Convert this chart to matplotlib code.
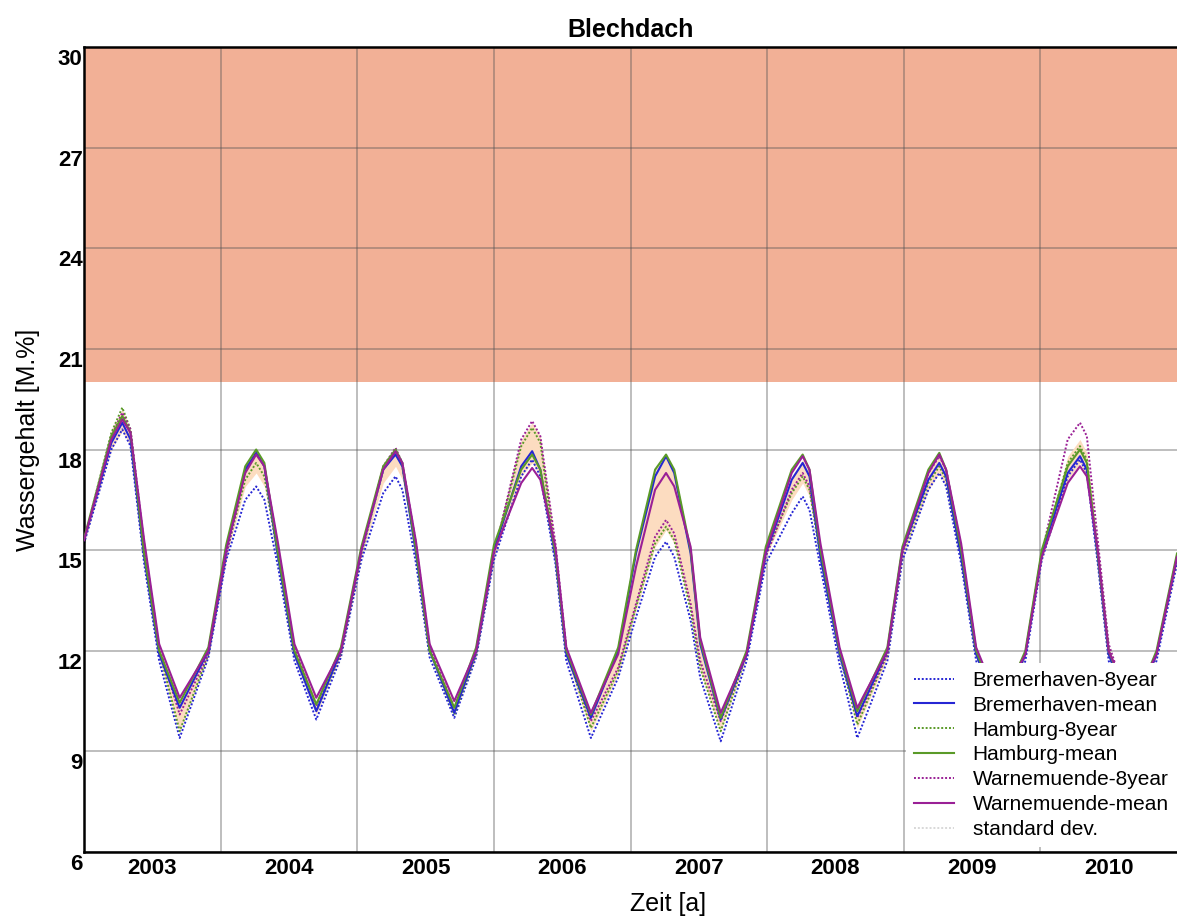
import numpy as np
import matplotlib.pyplot as plt
import matplotlib.transforms as mtransforms

plt.rcParams['font.family'] = ['Liberation Sans', 'DejaVu Sans']

# Stuetzstellen (Zeit in Jahren): Start, dann je Zyklus
# vor Max, Max, nach Max, 15 fallend, 12 fallend, Min, 12 steigend, 15 steigend
zeit = [2003.00,
        2003.20, 2003.28, 2003.34, 2003.44, 2003.55, 2003.70, 2003.91, 2004.04,
        2004.18, 2004.26, 2004.32, 2004.42, 2004.54, 2004.70, 2004.88, 2005.03,
        2005.19, 2005.28, 2005.33, 2005.43, 2005.53, 2005.71, 2005.87, 2006.00,
        2006.20, 2006.28, 2006.34, 2006.45, 2006.53, 2006.71, 2006.91, 2007.04,
        2007.18, 2007.26, 2007.32, 2007.44, 2007.51, 2007.66, 2007.85, 2007.99,
        2008.18, 2008.26, 2008.31, 2008.39, 2008.53, 2008.66, 2008.88, 2008.99,
        2009.18, 2009.26, 2009.31, 2009.42, 2009.53, 2009.70, 2009.89, 2010.01,
        2010.20, 2010.29, 2010.34, 2010.42, 2010.50, 2010.67, 2010.85, 2011.00]

bremerhaven_8year = [15.2,
    18.0, 18.6, 18.1, 14.6, 11.7, 9.4, 11.8, 14.7,
    16.5, 16.9, 16.5, 14.5, 11.7, 9.95, 11.8, 14.7,
    16.7, 17.2, 16.8, 14.6, 11.8, 10.0, 11.8, 14.7,
    17.2, 17.7, 17.2, 14.6, 11.7, 9.4, 11.2, 13.0,
    14.8, 15.25, 14.8, 12.9, 11.2, 9.3, 11.7, 14.6,
    16.1, 16.6, 16.2, 14.5, 11.6, 9.4, 11.7, 14.7,
    16.8, 17.3, 16.9, 14.6, 11.7, 9.6, 11.7, 14.7,
    17.2, 17.7, 17.3, 14.6, 11.7, 9.6, 11.7, 14.6]
bremerhaven_mean = [15.3,
    18.2, 18.8, 18.3, 14.8, 11.9, 10.3, 12.0, 15.0,
    17.4, 17.9, 17.5, 14.8, 11.9, 10.2, 12.0, 15.0,
    17.4, 17.85, 17.5, 14.9, 12.0, 10.15, 12.0, 15.0,
    17.5, 17.95, 17.4, 14.8, 11.9, 10.0, 12.0, 14.9,
    17.2, 17.8, 17.3, 14.9, 12.2, 9.95, 11.9, 14.9,
    17.1, 17.6, 17.2, 14.8, 11.9, 10.05, 12.0, 15.0,
    17.1, 17.6, 17.2, 14.8, 11.9, 10.0, 11.9, 14.9,
    17.3, 17.8, 17.4, 14.8, 11.9, 10.0, 11.9, 14.8]
hamburg_8year = [15.3,
    18.5, 19.25, 18.6, 15.0, 12.0, 9.6, 11.9, 14.9,
    17.1, 17.6, 17.2, 14.8, 11.9, 10.2, 11.9, 14.9,
    17.4, 17.9, 17.5, 14.9, 12.0, 10.1, 11.9, 14.9,
    18.1, 18.65, 18.2, 14.9, 12.0, 9.7, 11.4, 13.3,
    15.2, 15.7, 15.3, 13.2, 11.5, 9.6, 11.9, 14.9,
    16.7, 17.2, 16.8, 14.8, 11.9, 9.8, 11.9, 14.9,
    17.0, 17.5, 17.1, 14.8, 11.9, 9.9, 11.9, 14.9,
    17.6, 18.1, 17.7, 14.8, 11.9, 9.9, 11.9, 14.8]
hamburg_mean = [15.35,
    18.4, 19.0, 18.5, 14.9, 12.0, 10.45, 12.1, 15.15,
    17.5, 18.0, 17.6, 14.9, 12.0, 10.4, 12.1, 15.1,
    17.5, 18.0, 17.6, 15.0, 12.0, 10.3, 12.1, 15.15,
    17.4, 17.85, 17.4, 14.9, 12.0, 10.1, 12.1, 15.0,
    17.4, 17.85, 17.4, 15.0, 12.3, 10.0, 12.0, 15.1,
    17.4, 17.85, 17.4, 15.0, 12.0, 10.2, 12.1, 15.1,
    17.4, 17.9, 17.4, 15.0, 12.0, 10.2, 12.0, 15.0,
    17.5, 18.0, 17.6, 14.9, 12.0, 10.2, 12.0, 14.9]
warnemuende_8year = [15.25,
    18.4, 19.1, 18.6, 15.2, 12.1, 10.1, 11.9, 14.8,
    17.4, 17.95, 17.5, 15.1, 12.1, 10.35, 11.9, 14.9,
    17.5, 18.05, 17.6, 15.2, 12.1, 10.3, 11.9, 14.85,
    18.3, 18.85, 18.4, 15.2, 12.1, 9.9, 11.5, 13.4,
    15.4, 15.9, 15.5, 13.4, 11.7, 9.9, 11.9, 14.8,
    16.8, 17.3, 16.9, 15.0, 12.0, 10.0, 11.9, 14.9,
    17.3, 17.8, 17.4, 15.1, 12.0, 10.1, 11.9, 14.9,
    18.3, 18.8, 18.4, 15.3, 12.2, 10.1, 11.9, 14.8]
warnemuende_mean = [15.3,
    18.3, 18.9, 18.5, 15.3, 12.2, 10.6, 12.0, 15.0,
    17.3, 17.85, 17.5, 15.2, 12.2, 10.6, 12.0, 15.0,
    17.4, 17.95, 17.6, 15.25, 12.2, 10.5, 12.0, 14.95,
    17.0, 17.45, 17.1, 15.1, 12.1, 10.15, 11.9, 14.5,
    16.8, 17.3, 16.9, 15.1, 12.4, 10.15, 11.9, 14.95,
    17.3, 17.8, 17.4, 15.2, 12.1, 10.3, 12.0, 15.0,
    17.3, 17.85, 17.4, 15.2, 12.1, 10.4, 11.9, 14.8,
    17.0, 17.5, 17.2, 15.0, 12.0, 10.4, 11.9, 14.8]

# Standardabweichung (unterer / oberer Rand)
std_unten = [15.2,
    18.0, 18.55, 18.1, 14.8, 11.8, 9.6, 11.9, 14.8,
    16.9, 17.3, 16.9, 14.8, 11.8, 10.1, 11.9, 14.8,
    17.0, 17.5, 17.1, 14.9, 11.9, 10.1, 11.9, 14.8,
    17.2, 17.6, 17.2, 14.8, 11.8, 9.6, 11.3, 13.2,
    15.1, 15.6, 15.2, 13.2, 11.4, 9.6, 11.8, 14.8,
    16.5, 17.0, 16.6, 14.8, 11.8, 9.7, 11.8, 14.8,
    16.8, 17.3, 16.9, 14.8, 11.8, 9.8, 11.8, 14.7,
    17.1, 17.6, 17.2, 14.8, 11.8, 9.8, 11.8, 14.6]
std_oben = [15.4,
    18.6, 19.2, 18.6, 15.2, 12.1, 10.5, 12.1, 15.1,
    17.5, 17.95, 17.6, 15.1, 12.1, 10.5, 12.1, 15.1,
    17.5, 18.0, 17.6, 15.2, 12.1, 10.4, 12.1, 15.1,
    18.3, 18.8, 18.4, 15.2, 12.1, 10.1, 12.0, 14.8,
    17.4, 17.8, 17.4, 15.0, 12.3, 10.1, 12.0, 15.1,
    17.2, 17.7, 17.3, 15.1, 12.1, 10.2, 12.1, 15.1,
    17.3, 17.8, 17.4, 15.1, 12.1, 10.3, 12.0, 15.0,
    17.8, 18.3, 17.9, 15.2, 12.1, 10.3, 12.0, 14.9]

jahre = ['2003', '2004', '2005', '2006', '2007', '2008', '2009', '2010']
y_ticks = [6, 9, 12, 15, 18, 21, 24, 27, 30]
grenze = 20  # ab hier kritischer Bereich

blau = '#2626d4'
gruen = '#5a9a28'
lila = '#9a2096'

fig = plt.figure(figsize=(11.77, 9.22), dpi=100)
ax = fig.add_axes([0.0714, 0.0759, 0.9286, 0.8731])

ax.axhspan(grenze, 30, color='#f2b096', lw=0, zorder=0.2)
ax.fill_between(zeit, std_unten, std_oben, color='#fcdcc0', lw=0, zorder=1.5)

punkt = (0, (1, 1))
ax.plot(zeit, bremerhaven_8year, color=blau, ls=punkt, lw=1.4, label='Bremerhaven-8year', zorder=2)
ax.plot(zeit, bremerhaven_mean, color=blau, lw=1.5, label='Bremerhaven-mean', zorder=3)
ax.plot(zeit, hamburg_8year, color=gruen, ls=punkt, lw=1.4, label='Hamburg-8year', zorder=2)
ax.plot(zeit, hamburg_mean, color=gruen, lw=1.5, label='Hamburg-mean', zorder=3)
ax.plot(zeit, warnemuende_8year, color=lila, ls=punkt, lw=1.4, label='Warnemuende-8year', zorder=2)
ax.plot(zeit, warnemuende_mean, color=lila, lw=1.5, label='Warnemuende-mean', zorder=3)
ax.plot([], [], color='#d8d8d8', ls=punkt, lw=1.4, label='standard dev.')

ax.set_xlim(2003, 2011)
ax.set_ylim(6, 30)
ax.set_xticks([2003.5 + i for i in range(len(jahre))])
ax.set_xticklabels(jahre)
ax.set_xticks(range(2004, 2011), minor=True)
ax.set_yticks(y_ticks)
ax.tick_params(which='both', length=0)
ax.tick_params(axis='x', pad=4, labelsize=16)
ax.tick_params(axis='y', pad=1, labelsize=16)
for lab in ax.get_xticklabels() + ax.get_yticklabels():
    lab.set_fontweight('bold')
# Zahlen an der y-Achse leicht nach unten versetzt
versatz = mtransforms.ScaledTranslation(0, -10 / 100, fig.dpi_scale_trans)
for lab in ax.get_yticklabels():
    lab.set_transform(lab.get_transform() + versatz)

ax.set_axisbelow(True)
ax.grid(axis='y', which='major', color='#555555', alpha=0.45, lw=1.2)
ax.grid(axis='x', which='minor', color='#555555', alpha=0.45, lw=1.2)

for s in ['left', 'bottom', 'top']:
    ax.spines[s].set_linewidth(1.8)
ax.spines['right'].set_visible(False)

ax.set_title('Blechdach', fontsize=18, fontweight='bold', pad=7)
ax.set_xlabel('Zeit [a]', fontsize=18)
ax.set_ylabel('Wassergehalt [M.%]', fontsize=18)
ax.xaxis.set_label_coords(0.534, -0.05)
ax.yaxis.set_label_coords(-0.040, 0.512)

leg = ax.legend(loc='lower right', bbox_to_anchor=(1.0, 0.006), fontsize=15,
                frameon=True, fancybox=False, framealpha=1, edgecolor='none',
                handlelength=1.9, handletextpad=0.9, labelspacing=0.28,
                borderpad=0.4, borderaxespad=0.0)
leg.set_zorder(5)

fig.savefig('out.png', dpi=100)
